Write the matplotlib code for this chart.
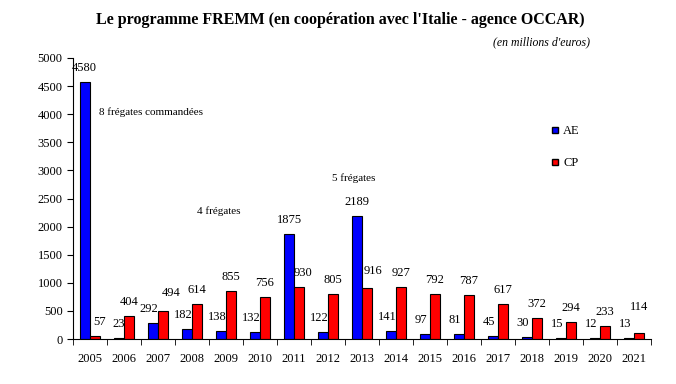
from matplotlib import pyplot as plt
from matplotlib.lines import Line2D
import numpy as np

plt.rcParams['font.family'] = ['Liberation Serif', 'DejaVu Serif']

years = ['2005', '2006', '2007', '2008', '2009', '2010', '2011', '2012', '2013',
         '2014', '2015', '2016', '2017', '2018', '2019', '2020', '2021']
ae = [4580, 23, 292, 182, 138, 132, 1875, 122, 2189, 141, 97, 81, 45, 30, 15, 12, 13]
cp = [57, 404, 494, 614, 855, 756, 930, 805, 916, 927, 792, 787, 617, 372, 294, 233, 114]

# small nudges (pixels) for a few value labels, as in the original
ae_nudge = {0: (-1, 0), 1: (0, 0), 6: (0, 0), 8: (0, 0)}
cp_nudge = {0: (5, 0), 2: (8, 4), 6: (4, 0), 8: (6, 3), 16: (0, 12)}

W, H = 676, 384
fig = plt.figure(figsize=(W / 100, H / 100), dpi=100)
ax = fig.add_axes([73 / W, 1 - 339 / H, 578 / W, 281 / H])

x = np.arange(len(years))
w = 0.29
ax.bar(x - w / 2, ae, w, color='#0000FF', edgecolor='black', linewidth=0.8, label='AE')
ax.bar(x + w / 2, cp, w, color='#FF0000', edgecolor='black', linewidth=0.8, label='CP')

for i in range(len(years)):
    dx, dy = ae_nudge.get(i, (-4, 0))
    ax.annotate(str(ae[i]), (x[i] - w / 2, ae[i]), xytext=(dx, 14 + dy),
                textcoords='offset pixels', ha='center', va='center', fontsize=9)
    dx, dy = cp_nudge.get(i, (0, 0))
    ax.annotate(str(cp[i]), (x[i] + w / 2, cp[i]), xytext=(dx, 14 + dy),
                textcoords='offset pixels', ha='center', va='center', fontsize=9)

ax.set_xlim(-0.5, len(years) - 0.5)
ax.set_ylim(0, 5000)
ax.set_yticks(np.arange(0, 5001, 500))
ax.set_xticks(x)
ax.set_xticklabels(years)
ax.set_xticks(np.arange(-0.5, len(years)), minor=True)
ax.tick_params(axis='x', which='major', length=0, pad=10, labelsize=9)
ax.tick_params(axis='x', which='minor', length=4, direction='out')
ax.tick_params(axis='y', length=4, direction='out', labelsize=9)
ax.spines['top'].set_visible(False)
ax.spines['right'].set_visible(False)

fig.text(99 / W, 1 - 112 / H, '8 frégates commandées', fontsize=8, va='center')
fig.text(197 / W, 1 - 211 / H, '4 frégates', fontsize=8, va='center')
fig.text(332 / W, 1 - 178 / H, '5 frégates', fontsize=8, va='center')

handles = [Line2D([], [], ls='none', marker='s', markersize=5, markerfacecolor='#0000FF',
                  markeredgecolor='black'),
           Line2D([], [], ls='none', marker='s', markersize=5, markerfacecolor='#FF0000',
                  markeredgecolor='black')]
ax.legend(handles, ['AE', 'CP'], loc='upper left', bbox_to_anchor=(0.805, 0.80),
          frameon=False, fontsize=9, handlelength=0.8, handletextpad=0.3,
          labelspacing=1.6)

fig.text(340 / W, 1 - 20 / H, "Le programme FREMM (en coopération avec l'Italie - agence OCCAR)",
         ha='center', va='center', fontsize=11.5, fontweight='bold')
fig.text(590 / W, 1 - 42 / H, "(en millions d'euros)", ha='right', va='center',
         fontsize=8.5, style='italic')

fig.savefig('out.png', dpi=100)
